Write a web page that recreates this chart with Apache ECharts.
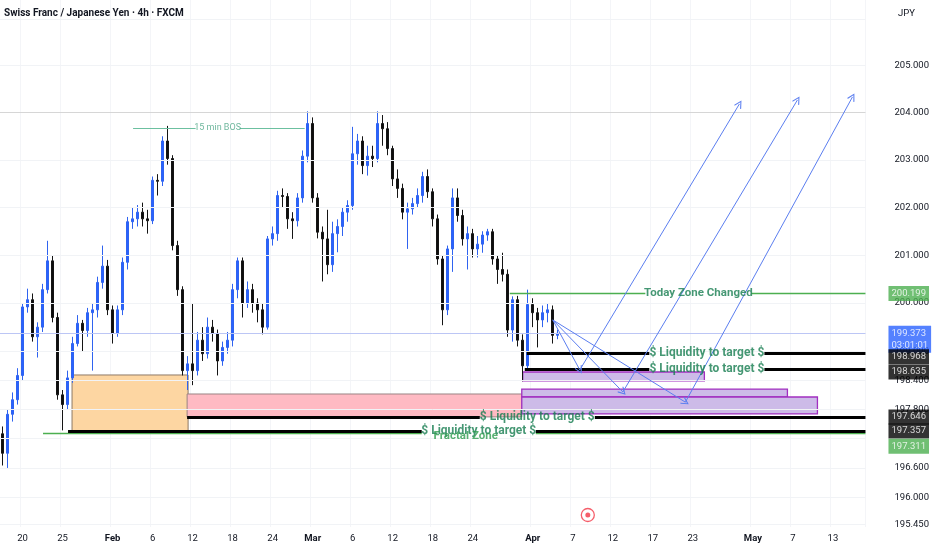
<!DOCTYPE html>
<html><head><meta charset="utf-8">
<script src="https://cdn.jsdelivr.net/npm/echarts@6/dist/echarts.min.js"></script>
<style>html,body{margin:0;padding:0;background:#fff}#c{width:932px;height:550px}</style>
</head><body><div id="c"></div>
<script>
// ---------------- DATA ----------------
const titleText = 'Swiss Franc / Japanese Yen · 4h · FXCM';
const currencyText = 'JPY';
const startDate = '2026-01-16';          // first 12h slot on the time axis
const slotCount = 173;                   // 12h trading slots shown (incl. future)
const tickDates  = ['2026-01-20','2026-01-25','2026-02-01','2026-02-06','2026-02-12','2026-02-18','2026-02-24','2026-03-01','2026-03-06','2026-03-12','2026-03-18','2026-03-24','2026-04-01','2026-04-07','2026-04-12','2026-04-17','2026-04-23','2026-05-01','2026-05-07','2026-05-13','2026-05-19'];
const tickLabels = ['20','25','Feb','6','12','18','24','Mar','6','12','18','24','Apr','7','12','17','23','May','7','13','19'];
const monthLabels = ['Feb','Mar','Apr','May'];
const priceTicks = [205,204,203,202,201,200,199,198.4,197.8,196.6,196,195.45];
const gridPrices = [206,205,204,203,202,201,200,199,198.4,197.8,197.2,196.6,196,195.45];
// candles: [open, close, low, high] per 12h slot
const candles = [
[197.30,196.90,196.65,197.45],[196.90,197.70,196.60,197.80],[197.70,198.00,197.55,198.15],[198.00,198.50,197.90,198.65],
[198.50,199.92,198.40,200.00],[199.92,200.07,199.80,200.30],[200.07,199.30,199.20,200.20],[199.30,199.50,198.87,199.60],
[199.50,200.28,199.40,200.40],[200.28,200.88,200.20,201.30],[200.88,199.70,199.60,201.00],[199.70,198.10,198.00,199.80],
[198.10,197.90,197.37,198.20],[197.90,198.45,197.80,198.60],[198.45,199.16,198.35,199.30],[199.16,199.58,199.10,199.75],
[199.58,199.43,199.00,199.65],[199.43,199.80,199.30,199.90],[199.80,199.86,198.60,200.00],[199.86,200.43,199.70,200.55],
[200.43,200.77,200.30,201.20],[200.77,199.86,199.75,200.90],[199.86,199.37,199.16,199.95],[199.37,199.86,199.30,199.95],
[199.86,200.85,199.75,200.95],[200.85,201.70,200.70,201.80],[201.70,201.76,201.55,202.00],[201.76,201.90,201.60,202.05],
[201.90,201.76,201.60,202.10],[201.76,201.72,201.45,201.95],[201.72,202.57,201.65,202.65],[202.57,202.55,202.25,202.70],
[202.55,203.40,202.45,203.50],[203.40,203.03,202.90,203.72],[203.03,201.20,201.10,203.10],[201.20,200.28,200.15,201.30],
[200.28,198.60,198.50,200.35],[198.60,198.74,198.20,198.90],[198.74,198.60,198.30,200.00],[198.60,199.23,198.50,199.40],
[199.23,198.95,198.80,199.50],[198.95,199.50,198.85,199.70],[199.50,199.37,199.20,199.65],[199.37,198.80,198.50,199.45],
[198.80,199.08,198.70,199.20],[199.08,199.23,198.95,199.40],[199.23,200.28,199.10,200.40],[200.28,200.88,200.10,200.95],
[200.88,200.00,199.70,200.95],[200.00,200.28,199.90,200.45],[200.28,200.00,199.80,200.40],[200.00,199.86,199.60,200.10],
[199.86,199.50,199.35,200.00],[199.50,201.34,199.45,201.40],[201.34,201.45,201.20,201.60],[201.45,202.25,201.30,202.35],
[202.25,202.23,202.00,202.40],[202.23,201.76,201.55,202.30],[201.76,201.72,201.34,201.90],[201.72,202.20,201.60,202.30],
[202.20,203.08,202.10,203.20],[203.08,203.77,202.95,204.03],[203.77,202.20,202.10,203.90],[202.20,201.48,201.35,202.30],
[201.48,201.34,200.45,201.60],[201.34,200.80,200.60,201.95],[200.80,201.45,200.65,201.70],[201.45,201.60,201.06,201.75],
[201.60,201.90,201.40,202.00],[201.90,202.04,201.70,202.15],[202.04,203.13,201.95,203.70],[203.13,203.40,202.90,203.55],
[203.40,202.88,202.70,203.50],[202.88,203.08,202.67,203.30],[203.08,203.03,202.85,203.30],[203.03,203.77,202.95,204.03],
[203.77,203.66,203.30,203.95],[203.66,203.24,203.10,203.80],[203.24,202.60,202.45,203.30],[202.60,202.40,202.20,202.80],
[202.40,201.90,201.75,202.50],[201.90,201.97,201.13,202.10],[201.97,202.08,201.85,202.20],[202.08,202.25,202.00,202.40],
[202.25,202.65,202.10,202.75],[202.65,202.33,202.20,202.80],[202.33,201.76,201.60,202.40],[201.76,200.92,200.80,201.85],
[200.92,199.86,199.54,201.00],[199.86,201.13,199.75,201.20],[201.13,202.20,200.65,202.40],[202.20,201.83,201.70,202.40],
[201.83,201.34,201.20,201.95],[201.34,201.45,200.70,201.60],[201.45,201.13,200.95,201.55],[201.13,201.23,200.95,201.40],
[201.23,201.42,201.05,201.50],[201.42,201.49,201.30,201.55],[201.49,200.92,200.80,201.55],[200.92,200.70,200.40,201.00],
[200.70,200.60,200.45,201.05],[200.60,199.44,199.30,200.70],[199.44,200.07,199.20,200.14],[200.07,199.23,199.10,200.15],
[199.23,198.70,198.38,199.35],[198.70,199.97,198.60,200.28],[199.97,199.80,199.50,200.10],[199.80,199.65,199.08,199.90],
[199.65,199.80,199.50,199.95],[199.80,199.86,199.60,200.00],[199.86,199.33,199.16,199.95],[199.33,199.373,199.25,199.45]
];
const lastPrice = 199.373;
const countdown = '03:01:01';
const todayZone = 200.199;
const liquidity = [198.968, 198.635, 197.646, 197.357];
const fractalZone = 197.311;
const bosLevel = 203.676;
const resistance = 204.0;
const liqText = '$ Liquidity to target $';

// ---------------- AXIS BUILD ----------------
const slots = [];
{
  const d = new Date(startDate + 'T00:00:00Z');
  while (slots.length < slotCount) {
    const wd = d.getUTCDay();
    if (wd >= 1 && wd <= 5) { const s = d.toISOString().slice(0,10); slots.push(s + ' 00h'); slots.push(s + ' 12h'); }
    d.setUTCDate(d.getUTCDate() + 1);
  }
  slots.length = slotCount;
}
const tickIndex = {};
tickDates.forEach((t, i) => { const idx = slots.findIndex(s => s.slice(0,10) >= t); if (idx >= 0) tickIndex[idx] = tickLabels[i]; });
const isTick = (i) => tickIndex[i] !== undefined;

// ---------------- ANNOTATION LAYOUT (time in slot units) ----------------
const uMax = slotCount - 0.5;
const FONT = "'Liberation Sans Narrow','Roboto',sans-serif";
const GREEN = '#4caf50', TXT = '#177d50';
function seg(u1, u2, p, style) { return [{coord:[u1,p], lineStyle:Object.assign({type:'solid'}, style)}, {coord:[u2,p]}]; }
const blk = {color:'#000', width:3};
const grn = {color:GREEN, width:1.3};
const bosStyle = {color:'#6cc0a0', width:1.2};

const hLines = [
  seg(-0.5, uMax, resistance, {color:'#d6d6d6', width:1}),
  seg(-0.5, uMax, lastPrice, {color:'#bcc6f5', width:1}),
  seg(26.1, 38.6, bosLevel, bosStyle), seg(47.4, 60.4, bosLevel, bosStyle),
  seg(101.4, 128.5, todayZone, grn), seg(149.7, uMax, todayZone, grn),
  seg(8.1, 83.8, fractalZone, grn), seg(106.6, uMax, fractalZone, grn),
  seg(104.8, 129.3, liquidity[0], blk), seg(152.3, uMax, liquidity[0], blk),
  seg(104.4, 129.3, liquidity[1], blk), seg(152.3, uMax, liquidity[1], blk),
  seg(36.9, 95.4, liquidity[2], blk), seg(118.4, uMax, liquidity[2], blk),
  seg(13.1, 83.8, liquidity[3], blk), seg(106.6, uMax, liquidity[3], blk)
];
const boxStyle = (fill, border, w) => ({color:fill, borderColor:border, borderWidth:w||1});
const boxes = [
  [{coord:[13.9,198.51], itemStyle:boxStyle('#fdd6a2','#8e7a66')}, {coord:[37.1,liquidity[3]]}],
  [{coord:[36.9,198.118], itemStyle:boxStyle('#ffbac3','#9a8585')}, {coord:[103.8,liquidity[2]]}],
  [{coord:[104.0,198.572], itemStyle:boxStyle('#cdbbe8','#a12fc0',1.3)}, {coord:[140.3,198.387]}],
  [{coord:[103.8,198.22], itemStyle:boxStyle('#cdbbe8','#a12fc0',1.3)}, {coord:[156.9,198.056]}],
  [{coord:[103.8,198.056], itemStyle:boxStyle('#cdbbe8','#a12fc0',1.3)}, {coord:[162.9,197.707]}]
];
const origin = [110.0, 199.65];
const targets = [[115.4,198.614],[124.0,198.16],[136.5,197.95]];
const tops = [[147.3,204.185],[158.9,204.27],[169.9,204.334]];
const arrows = [];
targets.forEach((t,i) => { arrows.push([{coord:origin},{coord:t}]); arrows.push([{coord:t},{coord:tops[i]}]); });

const bigText = {color:TXT, fontSize:12, fontWeight:'bold'};
const texts = [
  {value:[43.0,bosLevel], label:{formatter:'15 min BOS', color:'#4aa585', fontSize:9}},
  {value:[139.1,todayZone], label:Object.assign({formatter:'Today Zone Changed'}, bigText, {fontSize:11.5})},
  {value:[140.8,liquidity[0]], label:Object.assign({formatter:liqText}, bigText)},
  {value:[140.8,liquidity[1]], label:Object.assign({formatter:liqText}, bigText)},
  {value:[106.9,liquidity[2]], label:Object.assign({formatter:liqText}, bigText)},
  {value:[95.2,liquidity[3]], label:Object.assign({formatter:liqText}, bigText)},
  {value:[92.6,fractalZone], label:{formatter:'Fractal Zone', color:'#2e9c4f', fontSize:11.5, fontWeight:'bold', offset:[0,3]}}
];
const tagU = 177.1;
const tag = (p, txt, bg, dy) => ({value:[tagU, p], label:{formatter:txt, backgroundColor:bg, offset:[0, dy||0]}});
const tags = [
  tag(todayZone, todayZone.toFixed(3), '#4caf50', 0),
  {value:[tagU,lastPrice], label:{formatter:lastPrice.toFixed(3)+'\n'+countdown, backgroundColor:'#2962ff', offset:[0,6], lineHeight:12}},
  tag(liquidity[0], liquidity[0].toFixed(3), '#000', 4),
  tag(liquidity[1], liquidity[1].toFixed(3), '#000', 3),
  tag(liquidity[2], liquidity[2].toFixed(3), '#000', 0),
  tag(liquidity[3], liquidity[3].toFixed(3), '#000', 0),
  tag(fractalZone, fractalZone.toFixed(3), '#4caf50', 13)
];
const chevron = 'path://M5,0 L10,9 L9,10 L5,2.6 L1,10 L0,9 Z';

// ---------------- CHART ----------------
const chart = echarts.init(document.getElementById('c'), null, {renderer:'canvas'});
chart.setOption({
  animation:false,
  backgroundColor:'#ffffff',
  title:[
    {text:titleText, left:0, top:8, padding:[0,0,0,4], textStyle:{fontSize:10, fontWeight:'bold', color:'#131722', fontFamily:FONT}},
    {text:currencyText, left:898, top:9, padding:0, textStyle:{fontSize:9.5, fontWeight:'normal', color:'#131722', fontFamily:FONT}}
  ],
  grid:{left:0, right:66, top:0, bottom:23, containLabel:false},
  xAxis:[
    {type:'category', data:slots, boundaryGap:true,
     axisLine:{show:false}, axisTick:{show:false},
     splitLine:{show:true, interval:(i)=>isTick(i), lineStyle:{color:'#f4f5f8', width:1, type:'solid'}},
     axisLabel:{interval:(i)=>isTick(i), margin:7, fontSize:9.5, color:'#131722', fontFamily:FONT,
       formatter:(v,i)=>{ const l = tickIndex[i]; if (l===undefined) return ''; return monthLabels.includes(l) ? '{b|'+l+'}' : l; },
       rich:{b:{fontWeight:'bold', fontSize:9.5, color:'#131722', fontFamily:FONT}}}},
    {type:'value', min:-0.5, max:uMax, show:false}
  ],
  yAxis:[{type:'log', logBase:10, min:195.396, max:206.405, position:'right',
     axisLine:{show:false}, axisTick:{show:false}, splitLine:{show:false},
     axisLabel:{customValues:priceTicks, formatter:(v)=>Number(v).toFixed(3), margin:29, fontSize:9.5, color:'#131722', fontFamily:FONT}}],
  series:[
    {type:'line', xAxisIndex:1, data:[[0,200]], showSymbol:false, lineStyle:{opacity:0}, silent:true, z:0,
     markLine:{silent:true, symbol:'none', label:{show:false}, animation:false, lineStyle:{type:'solid', color:'#f1f3f6', width:1},
       data:gridPrices.map(p=>({yAxis:p}))}},
    {type:'line', xAxisIndex:1, data:[[0,200]], showSymbol:false, lineStyle:{opacity:0}, silent:true, z:1,
     markArea:{silent:true, animation:false, data:boxes}},
    {type:'candlestick', xAxisIndex:0, yAxisIndex:0, data:candles, barMaxWidth:3, z:3,
     itemStyle:{color:'#2962ff', color0:'#0d0d0d', borderColor:'#2f63f0', borderColor0:'#141414', borderWidth:1}},
    {type:'line', xAxisIndex:1, data:[[0,200]], showSymbol:false, lineStyle:{opacity:0}, silent:true, z:4,
     markLine:{silent:true, symbol:'none', label:{show:false}, animation:false, lineStyle:{type:'solid'}, data:hLines}},
    {type:'scatter', xAxisIndex:1, data:texts, symbolSize:0, silent:true, z:5,
     label:{show:true, position:'inside', fontFamily:FONT}},
    {type:'line', xAxisIndex:1, data:[[0,200]], showSymbol:false, lineStyle:{opacity:0}, silent:true, z:6,
     markLine:{silent:true, symbol:['none', chevron], symbolSize:8, label:{show:false}, animation:false,
       lineStyle:{color:'#5b7ef0', width:1, type:'solid'}, data:arrows}},
    {type:'scatter', xAxisIndex:1, data:[[117.0,195.64]], symbolSize:13, silent:true, z:6,
     itemStyle:{color:'#ffffff', borderColor:'#f23645', borderWidth:1.3}},
    {type:'scatter', xAxisIndex:1, data:[[117.0,195.64]], symbolSize:5, silent:true, z:7,
     itemStyle:{color:'#f23645'}},
    {type:'scatter', xAxisIndex:1, data:tags, symbolSize:0, silent:true, clip:false, z:8,
     label:{show:true, position:'right', distance:0, color:'#fff', fontSize:9.5, fontFamily:FONT, padding:[2,3,1,3], lineHeight:12}}
  ]
});
</script></body></html>
